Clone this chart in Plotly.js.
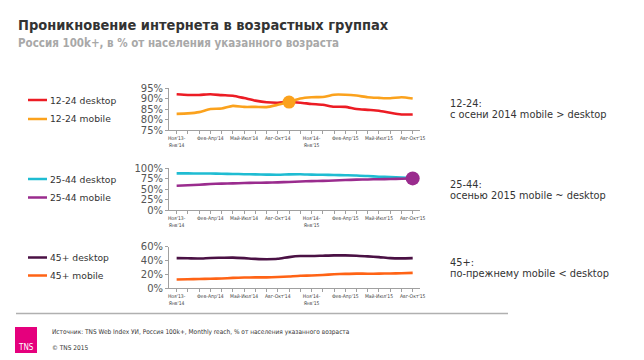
<!DOCTYPE html>
<html><head><meta charset="utf-8">
<script src="https://cdn.plot.ly/plotly-3.0.1.min.js"></script>
<style>html,body{margin:0;padding:0;background:#fff}#chart{width:644px;height:360px}</style>
</head><body><div id="chart"></div>
<script>
// ---- data ----
const periods = ["Ноя'13-Янв'14","Дек'13-Фев'14","Янв-Мар'14","Фев-Апр'14","Мар-Май'14","Апр-Июн'14",
  "Май-Июл'14","Июн-Авг'14","Июл-Сен'14","Авг-Окт'14","Сен-Ноя'14","Окт-Дек'14",
  "Ноя'14-Янв'15","Дек'14-Фев'15","Янв-Мар'15","Фев-Апр'15","Мар-Май'15","Апр-Июн'15",
  "Май-Июл'15","Июн-Авг'15","Июл-Сен'15","Авг-Окт'15"];
const tickLabels = ["Ноя'13-<br>Янв'14","","","Фев-Апр'14","","","Май-Июл'14","","","Авг-Окт'14","","",
  "Ноя'14-<br>Янв'15","","","Фев-Апр'15","","","Май-Июл'15","","","Авг-Окт'15"];

const desktop1224 = [92.0,91.7,91.7,92.0,91.6,91.3,90.2,89.0,88.2,88.0,88.3,88.0,87.4,87.0,86.1,86.0,85.0,84.6,84.2,83.2,82.4,82.4];
const mobile1224  = [82.7,82.9,83.5,85.0,85.2,86.5,86.0,86.0,85.9,87.0,88.3,90.0,90.6,90.7,91.8,91.8,91.4,90.6,90.3,90.1,90.6,90.0];
const desktop2544 = [88.0,88.0,87.5,87.5,87.0,86.5,86.0,85.5,85.0,84.5,85.5,86.0,85.0,84.5,84.0,83.5,83.0,81.5,80.0,79.0,78.0,76.5];
const mobile2544  = [58.5,59.5,61.0,62.5,63.5,64.0,65.0,65.5,66.0,66.5,67.5,68.5,69.5,70.0,71.0,72.0,73.0,73.5,74.0,74.5,75.0,76.0];
const desktop45   = [43.5,43.3,43.0,43.8,44.0,44.2,43.5,42.5,42.0,42.5,45.0,46.5,46.5,47.0,47.5,47.5,47.0,46.0,45.0,43.5,43.2,43.5];
const mobile45    = [12.7,13.0,13.5,13.7,14.2,15.0,15.5,15.7,15.7,16.2,17.0,18.0,18.4,19.2,20.2,20.8,21.2,21.0,21.2,21.4,21.8,22.2];

const seriesNames = ["12-24 desktop","12-24 mobile","25-44 desktop","25-44 mobile","45+ desktop","45+ mobile"];
const seriesColors = ["#ec1c24","#fba21d","#1fbcd2","#9a2c8e","#4a1144","#ff6315"];

const title = "Проникновение интернета в возрастных группах";
const subtitle = "Россия 100k+, в % от населения указанного возраста";
const notes = [["12-24:","с осени 2014 mobile > desktop"],["25-44:","осенью 2015 mobile ~ desktop"],["45+:","по-прежнему mobile < desktop"]];
const source = "Источник: TNS Web Index УИ, Россия 100k+, Monthly reach, % от населения указанного возраста";
const copyright = "© TNS 2015";

// ---- chart ----
const font = "DejaVu Sans, Verdana, sans-serif";
const cfont = "DejaVu Sans Condensed, DejaVu Sans, sans-serif";
const groups = [
  {d: desktop1224, m: mobile1224, ax: ""},
  {d: desktop2544, m: mobile2544, ax: "2"},
  {d: desktop45,   m: mobile45,   ax: "3"}
];
const traces = [];
groups.forEach((g,k)=>{
  traces.push({x: periods, y: g.d, type:"scatter", mode:"lines", name: seriesNames[2*k],
    line:{color: seriesColors[2*k], width:2.6, shape:"spline", smoothing:0.6}, xaxis:"x"+g.ax, yaxis:"y"+g.ax, hoverinfo:"skip"});
  traces.push({x: periods, y: g.m, type:"scatter", mode:"lines", name: seriesNames[2*k+1],
    line:{color: seriesColors[2*k+1], width:2.6, shape:"spline", smoothing:0.6}, xaxis:"x"+g.ax, yaxis:"y"+g.ax, hoverinfo:"skip"});
});
// highlight markers
traces.push({x:[periods[10]], y:[mobile1224[10]], type:"scatter", mode:"markers",
  marker:{size:13, color:seriesColors[1]}, xaxis:"x", yaxis:"y", hoverinfo:"skip"});
traces.push({x:[periods[21]], y:[mobile2544[21]], type:"scatter", mode:"markers",
  marker:{size:14, color:seriesColors[3]}, xaxis:"x2", yaxis:"y2", hoverinfo:"skip"});

const xdom = [169/644, 420/644];
function xax(anchor){
  return {domain:xdom, anchor:anchor, type:"category", range:[-0.68,21.65],
    tickmode:"array", tickvals:periods, ticktext:tickLabels, tickangle:0,
    tickfont:{family:cfont, size:5, color:"#444"}, ticks:"outside", ticklen:3, tickcolor:"#a0a0a0",
    showline:true, linecolor:"#a0a0a0", linewidth:1, showgrid:false, zeroline:false, fixedrange:true};
}
function yax(anchor, dom, range, dtick){
  return {domain:dom, anchor:anchor, range:range, dtick:dtick, ticksuffix:"%",
    tickfont:{family:font, size:10, color:"#555"}, ticks:"outside", ticklen:3, tickcolor:"#a0a0a0",
    showline:true, linecolor:"#a0a0a0", linewidth:1, showgrid:false, zeroline:false, fixedrange:true};
}
const H=360, W=644;
const layout = {
  width:W, height:H, margin:{l:0,r:0,t:0,b:0}, paper_bgcolor:"#fff", plot_bgcolor:"#fff",
  showlegend:false, font:{family:font},
  xaxis: xax("y"), xaxis2: xax("y2"), xaxis3: xax("y3"),
  yaxis: yax("x", [1-130/H, 1-88/H], [75,95], 5),
  yaxis2: yax("x2", [1-210.3/H, 1-168.3/H], [0,100], 25),
  yaxis3: yax("x3", [1-288.3/H, 1-246.7/H], [0,60], 20),
  shapes:[], annotations:[]
};
// titles
layout.annotations.push({xref:"paper",yref:"paper",x:16/W,y:1-25/H,xanchor:"left",yanchor:"middle",showarrow:false,
  text:"<b>"+title+"</b>", font:{family:cfont,size:14.5,color:"#333"}});
layout.annotations.push({xref:"paper",yref:"paper",x:16/W,y:1-43/H,xanchor:"left",yanchor:"middle",showarrow:false,
  text:"<b>"+subtitle+"</b>", font:{family:cfont,size:11.5,color:"#a8a8a8"}});
// legend keys
const legY = [100,119,179,197.5,257.5,275.5];
seriesNames.forEach((n,i)=>{
  layout.shapes.push({type:"line", xref:"paper", yref:"paper", x0:28/W, x1:47/W, y0:1-legY[i]/H, y1:1-legY[i]/H,
    line:{color:seriesColors[i], width:2.5}});
  layout.annotations.push({xref:"paper",yref:"paper",x:48/W,y:1-legY[i]/H,xanchor:"left",yanchor:"middle",showarrow:false,
    text:n, font:{family:font,size:9.2,color:"#333"}});
});
// notes
const noteY = [[103,114.5],[184.5,196],[262,273.5]];
notes.forEach((nt,i)=>{
  nt.forEach((t,j)=>{
    layout.annotations.push({xref:"paper",yref:"paper",x:448/W,y:1-noteY[i][j]/H,xanchor:"left",yanchor:"middle",showarrow:false,
      text:t, font:{family:font,size:9.8,color:"#333"}});
  });
});
// footer
layout.shapes.push({type:"line", xref:"paper", yref:"paper", x0:16/W, x1:508/W, y0:1-313.5/H, y1:1-313.5/H, line:{color:"#b0b0b0", width:1.5}});
layout.shapes.push({type:"rect", xref:"paper", yref:"paper", x0:15/W, x1:37/W, y0:1-353/H, y1:1-327/H, line:{width:0}, fillcolor:"#e5007d"});
layout.annotations.push({xref:"paper",yref:"paper",x:16/W,y:1-347.5/H,xanchor:"left",yanchor:"middle",showarrow:false,
  text:"TNS", font:{family:cfont,size:8,color:"#fff"}});
layout.annotations.push({xref:"paper",yref:"paper",x:50/W,y:1-332/H,xanchor:"left",yanchor:"middle",showarrow:false,
  text:source, font:{family:cfont,size:6.5,color:"#333"}});
layout.annotations.push({xref:"paper",yref:"paper",x:50/W,y:1-348/H,xanchor:"left",yanchor:"middle",showarrow:false,
  text:copyright, font:{family:cfont,size:6.5,color:"#333"}});

Plotly.newPlot("chart", traces, layout, {staticPlot:true, displayModeBar:false});
</script></body></html>
